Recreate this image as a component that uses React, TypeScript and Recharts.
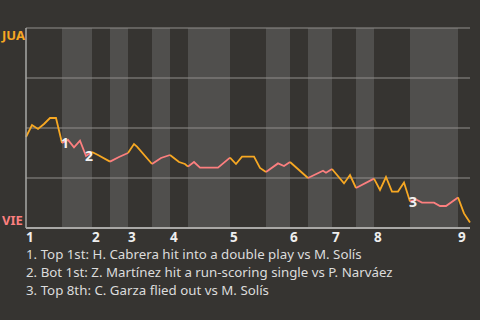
import React from 'react';
import {
  LineChart, Line, XAxis, YAxis, ReferenceArea, ReferenceLine, ReferenceDot,
} from 'recharts';

// game progress (x) and win probability for JUA (%) at each swing point
const T = [0, 2, 4, 6, 8, 10, 12, 14, 16, 18, 20, 22, 24, 28, 31, 34, 36, 37, 42, 45, 48, 51, 53, 54,
  56, 58, 64, 68, 70, 72, 76, 78, 80, 84, 86, 88, 94, 99, 100, 102, 106, 108, 110, 116,
  118, 120, 122, 124, 126, 128, 130, 132, 136, 138, 140, 144, 146, 148];
const WP = [45.5, 51.5, 49.5, 52, 55, 55, 42.5, 44, 40.3, 43.7, 36, 38, 36.5, 33.2, 35.5, 37.5, 42, 40.7, 32, 35, 36.5, 33, 32, 30.7,
  33, 30.2, 30.2, 35.2, 32, 35.7, 35.7, 30, 28, 32.3, 31, 33, 25, 28.6, 27.6, 29.5, 22.3, 26.5, 20, 24.7,
  19, 25.5, 18.2, 18.2, 22.7, 13.2, 14.3, 12.7, 12.7, 11, 11, 15.3, 7.3, 2.8];

// half-inning boundaries (top 1st .. top 9th)
const HALF_STARTS = [0, 12, 22, 28, 34, 42, 48, 54, 68, 80, 88, 94, 102, 110, 116, 128, 144, 148];
const INNING_TICKS = [0, 22, 34, 48, 68, 88, 102, 116, 144];
const INNING_LABELS = ['1', '2', '3', '4', '5', '6', '7', '8', '9'];

const MARK_T = [12, 20, 128];
const MARK_LABELS = ['1', '2', '3'];
const NOTES = [
  '1. Top 1st: H. Cabrera hit into a double play vs M. Solís',
  '2. Bot 1st: Z. Martínez hit a run-scoring single vs P. Narváez',
  '3. Top 8th: C. Garza flied out vs M. Solís',
];

const BG = '#363431';
const BAND = '#504f4d';
const ORANGE = '#f7a823';
const PINK = '#fc7f7f';
const FONT = '"Noto Sans", sans-serif';

const data = T.map((t, i) => {
  const row: Record<string, number | null> = { t, wp: WP[i] };
  for (let h = 0; h < HALF_STARTS.length - 1; h++) {
    row['h' + h] = t >= HALF_STARTS[h] && t <= HALF_STARTS[h + 1] ? WP[i] : null;
  }
  return row;
});

const halves = HALF_STARTS.slice(0, -1).map((start, h) => ({ h, start, end: HALF_STARTS[h + 1] }));

const YTick = ({ y, payload }: any) => {
  if (payload.value === 100) {
    return <text x={2} y={y + 12} fill={ORANGE} fontSize={13} fontWeight={700} fontFamily={FONT}>JUA</text>;
  }
  if (payload.value === 0) {
    return <text x={2} y={y - 3} fill={PINK} fontSize={13} fontWeight={700} fontFamily={FONT}>VIE</text>;
  }
  return <g />;
};

const XTick = ({ x, y, payload }: any) => (
  <text x={x} y={y + 13.5} fill="#eeeeee" fontSize={13.5} fontWeight={700} fontFamily={FONT} textAnchor="start">
    {INNING_LABELS[INNING_TICKS.indexOf(payload.value)]}
  </text>
);

const MarkLabel = (text: string) => (props: any) => {
  const { viewBox } = props;
  const cx = viewBox.x + viewBox.width / 2;
  const cy = viewBox.y + viewBox.height / 2;
  return (
    <text x={cx + 3} y={cy + 5} fill="#f2f2f2" fontSize={14} fontWeight={700} fontFamily={FONT} textAnchor="middle">
      {text}
    </text>
  );
};

export default function App() {
  return (
    <div style={{ position: 'absolute', left: 0, top: 0, width: 480, height: 320, background: BG, fontFamily: FONT }}>
      <LineChart width={480} height={246} data={data} margin={{ top: 28, right: 10, bottom: 0, left: 0 }}>
        <XAxis
          dataKey="t"
          type="number"
          domain={[0, 148]}
          ticks={INNING_TICKS}
          interval={0}
          tick={<XTick />}
          tickLine={false}
          tickSize={0}
          tickMargin={0}
          height={18}
          axisLine={{ stroke: '#a9a8a6', strokeWidth: 2 }}
        />
        <YAxis
          type="number"
          domain={[0, 100]}
          ticks={[0, 25, 50, 75, 100]}
          width={26}
          tick={<YTick />}
          tickLine={false}
          tickSize={0}
          tickMargin={0}
          axisLine={{ stroke: '#a9a8a6', strokeWidth: 1.5 }}
        />
        {halves.filter((b) => b.h % 2 === 1).map((b) => (
          <ReferenceArea key={'band' + b.h} x1={b.start} x2={b.end} y1={0} y2={100} fill={BAND} fillOpacity={1} stroke="none" />
        ))}
        {[25, 50, 75, 100].map((v) => (
          <ReferenceLine key={'g' + v} y={v} stroke="#8f8e8c" strokeWidth={1.2} />
        ))}
        {halves.map((b) => (
          <Line
            key={'h' + b.h}
            type="linear"
            dataKey={'h' + b.h}
            stroke={b.h % 2 === 0 ? ORANGE : PINK}
            strokeWidth={1.8}
            dot={false}
            activeDot={false}
            connectNulls={false}
            isAnimationActive={false}
          />
        ))}
        {MARK_T.map((t, i) => (
          <ReferenceDot
            key={'m' + i}
            x={t}
            y={WP[T.indexOf(t)]}
            r={0}
            fill="none"
            stroke="none"
            label={MarkLabel(MARK_LABELS[i])}
          />
        ))}
      </LineChart>
      <div style={{ position: 'absolute', left: 26, top: 248, color: '#dcdcdc', fontSize: 13.3, lineHeight: '12px' }}>
        {NOTES.map((n) => (
          <div key={n} style={{ marginBottom: 6 }}>{n}</div>
        ))}
      </div>
    </div>
  );
}
